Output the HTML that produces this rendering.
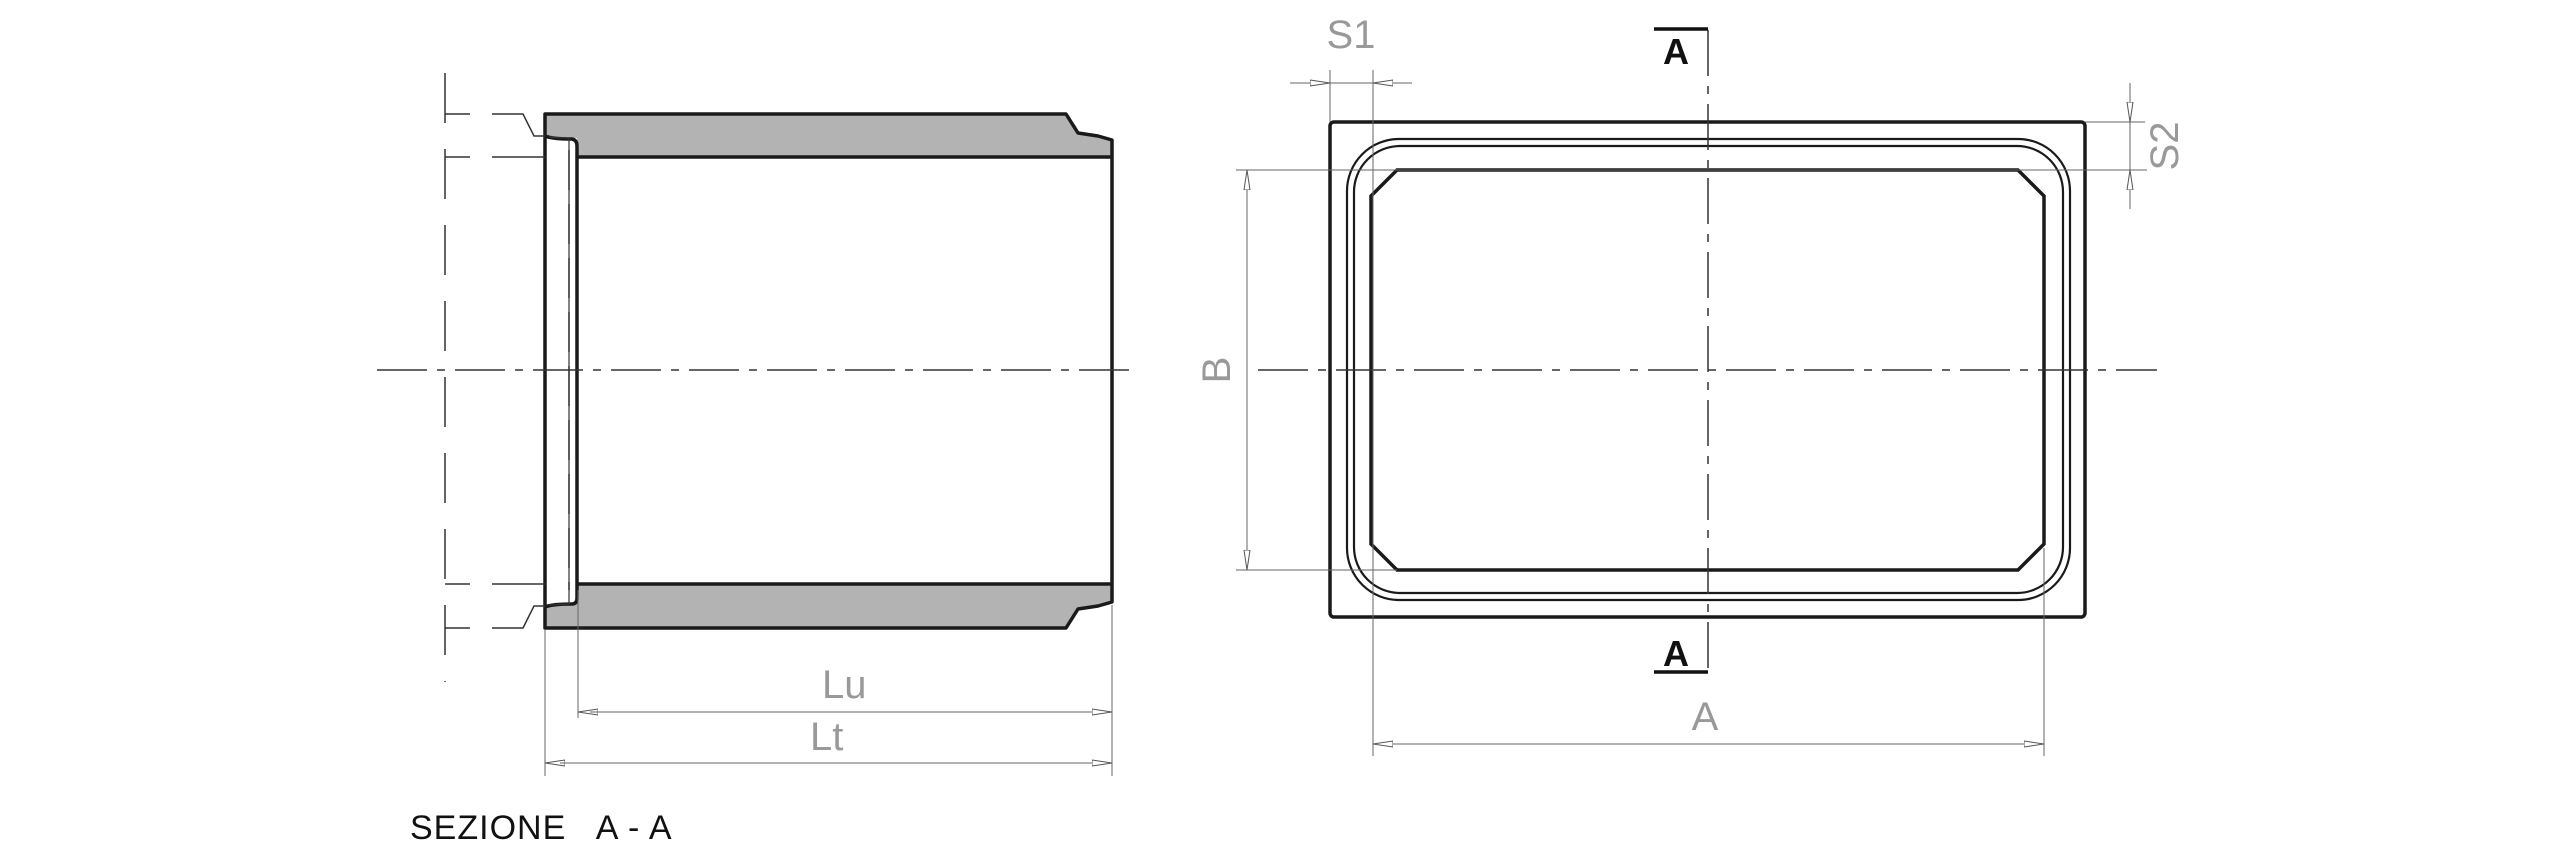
<!DOCTYPE html>
<html><head><meta charset="utf-8"><style>
html,body{margin:0;padding:0;background:#fff;}
svg{display:block;}
.dim{font-family:"Liberation Sans",sans-serif;fill:#999;font-weight:normal;}
</style></head><body>
<svg width="2556" height="854" viewBox="0 0 2556 854" xmlns="http://www.w3.org/2000/svg">
<defs>
<marker id="ar" viewBox="0 0 20 8" refX="20" refY="4" markerWidth="20" markerHeight="8" markerUnits="userSpaceOnUse" orient="auto">
<path d="M0,1 L20,4 L0,7 Z" fill="#fff" stroke="#555" stroke-width="1"/>
</marker>
</defs>
<!-- LEFT VIEW -->
<g fill="#b3b3b3" stroke="none">
<path d="M545,114 L1066,114 L1078,133 L1098,136 L1112,140 L1112,157 L577,157 L577,138 L545,136 Z"/>
<path d="M545,628 L1066,628 L1078,609 L1098,606 L1112,602 L1112,584 L577,584 L577,604 L545,606 Z"/>
</g>
<g fill="none" stroke="#1a1a1a" stroke-width="3.5" stroke-linejoin="round">
<path d="M545,114 L1066,114 L1078,133 L1098,136 L1112,140 L1112,602 L1098,606 L1078,609 L1066,628 L545,628 Z"/>
<line x1="577" y1="157" x2="1112" y2="157"/>
<line x1="577" y1="584" x2="1112" y2="584"/>
<path d="M545,136 Q552,139 572,139 Q577,140 577,146 L577,598 Q577,604 572,604 Q552,604 545,607"/>
</g>
<path d="M549,137 L569,138 L569,604 L549,605" fill="none" stroke="#333" stroke-width="1.2"/>
<g stroke="#333" stroke-width="1.5" fill="none" stroke-dasharray="50,26">
<line x1="445" y1="73" x2="445" y2="682"/>
</g>
<g stroke="#333" stroke-width="1.5" fill="none">
<path d="M445,114 L470,114 M492,114 L523,114 L534,136 L545,136"/>
<path d="M445,628 L470,628 M492,628 L523,628 L534,606 L545,606"/>
<path d="M445,157 L470,157 M492,157 L545,157"/>
<path d="M445,584 L470,584 M492,584 L545,584"/>
<line x1="569" y1="150" x2="569" y2="590" stroke-dasharray="40,14"/>
<line x1="377" y1="370" x2="1130" y2="370" stroke-dasharray="50,10,8,10"/>
</g>
<g stroke="#666" stroke-width="1" fill="none">
<line x1="578" y1="590" x2="578" y2="718"/>
<line x1="545" y1="630" x2="545" y2="776"/>
<line x1="1112" y1="605" x2="1112" y2="776"/>
<line x1="1100" y1="712" x2="578" y2="712" marker-end="url(#ar)"/>
<line x1="590" y1="712" x2="1112" y2="712" marker-end="url(#ar)"/>
<line x1="1100" y1="763" x2="545" y2="763" marker-end="url(#ar)"/>
<line x1="560" y1="763" x2="1112" y2="763" marker-end="url(#ar)"/>
</g>
<text class="dim" x="822" y="698" font-size="40">Lu</text>
<text class="dim" x="810" y="750" font-size="40">Lt</text>
<text x="410" y="839" font-family="Liberation Sans,sans-serif" font-size="34" letter-spacing="1" fill="#111" xml:space="preserve">SEZIONE   A - A</text>

<!-- RIGHT VIEW -->
<g fill="none" stroke="#1a1a1a">
<rect x="1330" y="122" width="755" height="495" rx="4" stroke-width="3.5"/>
<rect x="1347" y="139" width="723" height="461" rx="52" stroke-width="2.2"/>
<rect x="1354" y="146" width="709" height="447" rx="46" stroke-width="2.2"/>
<path d="M1397,170 L2018,170 L2044,196 L2044,544 L2018,570 L1397,570 L1371,544 L1371,196 Z" stroke-width="3.5"/>
</g>
<g stroke="#333" stroke-width="1.5" fill="none">
<line x1="1708" y1="30" x2="1708" y2="671" stroke-dasharray="46,10,8,10"/>
<line x1="1258" y1="370" x2="2157" y2="370" stroke-dasharray="50,10,8,10"/>
</g>
<g stroke="#111" stroke-width="3.5">
<line x1="1654" y1="29" x2="1708" y2="29"/>
<line x1="1654" y1="672" x2="1708" y2="672"/>
</g>
<text x="1676" y="64" text-anchor="middle" font-family="Liberation Sans,sans-serif" font-size="36" font-weight="bold" fill="#111">A</text>
<text x="1676" y="666" text-anchor="middle" font-family="Liberation Sans,sans-serif" font-size="36" font-weight="bold" fill="#111">A</text>
<g stroke="#666" stroke-width="1" fill="none">
<line x1="1330" y1="70" x2="1330" y2="122"/>
<line x1="1373" y1="70" x2="1373" y2="756"/>
<line x1="2044" y1="548" x2="2044" y2="756"/>
<line x1="1290" y1="83" x2="1330" y2="83" marker-end="url(#ar)"/>
<line x1="1412" y1="83" x2="1373" y2="83" marker-end="url(#ar)"/>
<line x1="1330" y1="83" x2="1373" y2="83"/>
<line x1="2085" y1="122" x2="2145" y2="122"/>
<line x1="1236" y1="170" x2="2147" y2="170"/>
<line x1="1236" y1="570" x2="1397" y2="570"/>
<line x1="2130" y1="83" x2="2130" y2="122" marker-end="url(#ar)"/>
<line x1="2130" y1="209" x2="2130" y2="170" marker-end="url(#ar)"/>
<line x1="2130" y1="122" x2="2130" y2="170"/>
<line x1="1247" y1="370" x2="1247" y2="170" marker-end="url(#ar)"/>
<line x1="1247" y1="370" x2="1247" y2="570" marker-end="url(#ar)"/>
<line x1="1708" y1="744" x2="1373" y2="744" marker-end="url(#ar)"/>
<line x1="1708" y1="744" x2="2044" y2="744" marker-end="url(#ar)"/>
</g>
<text class="dim" x="1351" y="48" text-anchor="middle" font-size="40">S1</text>
<text class="dim" x="1705" y="730" text-anchor="middle" font-size="40">A</text>
<text class="dim" transform="translate(1230,370) rotate(-90)" text-anchor="middle" font-size="40">B</text>
<text class="dim" transform="translate(2178,146) rotate(-90)" text-anchor="middle" font-size="40">S2</text>
</svg>
</body></html>
